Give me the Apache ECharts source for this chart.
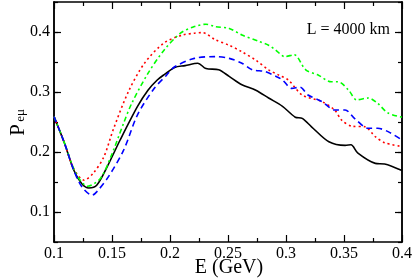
<!DOCTYPE html>
<html>
<head>
<meta charset="utf-8">
<script src="https://cdn.jsdelivr.net/npm/echarts@6/dist/echarts.min.js"></script>
<style>
html,body{margin:0;padding:0;background:#fff;}
#c{width:415px;height:280px;}
</style>
</head>
<body>
<div id="c"></div>
<script>
// ---- data ----
var blackE = [0.100,0.109,0.117,0.124,0.130,0.137,0.146,0.157,0.172,0.181,0.189,0.195,0.204,0.213,0.224,0.231,0.242,0.251,0.262,0.274,0.285,0.297,0.308,0.314,0.322,0.337,0.351,0.356,0.362,0.377,0.385,0.400];
var blackP = [0.259,0.215,0.170,0.147,0.140,0.145,0.176,0.220,0.276,0.303,0.320,0.329,0.341,0.344,0.348,0.339,0.337,0.326,0.312,0.303,0.290,0.276,0.258,0.256,0.242,0.217,0.211,0.212,0.198,0.181,0.180,0.169];

var redE = [0.100,0.109,0.117,0.126,0.134,0.143,0.151,0.164,0.178,0.195,0.211,0.221,0.228,0.239,0.251,0.262,0.274,0.285,0.294,0.302,0.314,0.331,0.342,0.348,0.357,0.368,0.377,0.385,0.400];
var redP = [0.259,0.215,0.172,0.153,0.165,0.192,0.237,0.300,0.348,0.382,0.395,0.398,0.399,0.387,0.378,0.367,0.353,0.337,0.328,0.320,0.295,0.284,0.270,0.253,0.243,0.242,0.2255,0.2155,0.209];

var greenE = [0.100,0.109,0.117,0.123,0.129,0.140,0.149,0.160,0.167,0.181,0.195,0.209,0.221,0.231,0.239,0.251,0.262,0.277,0.285,0.291,0.299,0.307,0.317,0.328,0.339,0.345,0.354,0.361,0.371,0.379,0.388,0.400];
var greenP = [0.259,0.215,0.172,0.152,0.143,0.156,0.192,0.248,0.281,0.331,0.370,0.398,0.409,0.413,0.409,0.406,0.395,0.384,0.378,0.370,0.359,0.362,0.337,0.328,0.317,0.317,0.303,0.287,0.290,0.281,0.265,0.258];

var blueE = [0.100,0.109,0.117,0.124,0.133,0.137,0.147,0.160,0.172,0.186,0.197,0.204,0.221,0.239,0.251,0.262,0.271,0.282,0.292,0.297,0.305,0.312,0.319,0.331,0.342,0.351,0.359,0.371,0.379,0.388,0.400];
var blueP = [0.259,0.215,0.170,0.142,0.128,0.134,0.159,0.203,0.262,0.305,0.328,0.342,0.356,0.359,0.356,0.348,0.337,0.334,0.3255,0.320,0.306,0.308,0.295,0.284,0.270,0.270,0.256,0.2395,0.2395,0.234,0.220];

var yMajorTicks = [0.1, 0.2, 0.3, 0.4];
var annotation = 'L = 4000 km';
var xTitle = 'E (GeV)';

function zip(a, b) { return a.map(function (v, i) { return [v, b[i]]; }); }

var SERIF = '"Liberation Serif", "DejaVu Serif", serif';
var chart = echarts.init(document.getElementById('c'), null, {renderer: 'canvas'});

var axisLine = {show: true, lineStyle: {color: '#000', width: 1.5}};
function xAx(pos, labels) {
  return {
    type: 'value', position: pos, min: 0.1, max: 0.4, interval: 0.05,
    axisLine: axisLine,
    axisTick: {show: true, inside: true, length: 7, lineStyle: {color: '#000', width: 1.2}},
    minorTick: {show: true, splitNumber: 2, length: 4, lineStyle: {color: '#000', width: 1.2}},
    axisLabel: {show: labels, fontFamily: SERIF, fontSize: 16, color: '#000', margin: 4},
    splitLine: {show: false}, minorSplitLine: {show: false}
  };
}
function yAx(pos, major, labels) {
  var ax = {
    type: 'value', position: pos, min: 0.05, max: 0.45, interval: 0.05,
    axisLine: axisLine,
    axisTick: {show: true, inside: true, length: major ? 7 : 4, lineStyle: {color: '#000', width: 1.2}},
    axisLabel: {show: labels, fontFamily: SERIF, fontSize: 16, color: '#000', margin: 4},
    splitLine: {show: false}
  };
  if (major) ax.axisTick.customValues = yMajorTicks;
  if (labels) ax.axisLabel.customValues = yMajorTicks;
  return ax;
}

function line(e, p, color, type) {
  return {
    type: 'line', xAxisIndex: 0, yAxisIndex: 0, data: zip(e, p),
    showSymbol: false, smooth: 0.3, silent: true,
    lineStyle: {color: color, width: 1.6, type: type}
  };
}

chart.setOption({
  animation: false,
  backgroundColor: '#fff',
  grid: {left: 54, right: 11, top: 2, bottom: 38, containLabel: false},
  xAxis: [xAx('bottom', true), xAx('top', false)],
  yAxis: [yAx('left', false, false), yAx('left', true, true), yAx('right', false, false), yAx('right', true, false)],
  series: [
    line(blackE, blackP, '#000000', 'solid'),
    line(redE, redP, '#ff0000', [2, 3]),
    line(greenE, greenP, '#00ff00', [5, 3, 2, 3]),
    line(blueE, blueP, '#0000ff', [6, 4])
  ],
  graphic: [
    {type: 'text', x: 390, y: 30, style: {text: annotation, font: '16px ' + SERIF, fill: '#000', textAlign: 'right', textVerticalAlign: 'middle'}},
    {type: 'text', x: 229, y: 268, style: {text: xTitle, font: '20px ' + SERIF, fill: '#000', textAlign: 'center', textVerticalAlign: 'middle'}},
    {type: 'text', x: 18, y: 130, rotation: Math.PI / 2, style: {text: 'P', font: '21px ' + SERIF, fill: '#000', textAlign: 'center', textVerticalAlign: 'middle'}},
    {type: 'text', x: 21, y: 115.5, rotation: Math.PI / 2, style: {text: 'eμ', font: '13px ' + SERIF, fill: '#000', textAlign: 'center', textVerticalAlign: 'middle'}}
  ]
});
</script>
</body>
</html>
